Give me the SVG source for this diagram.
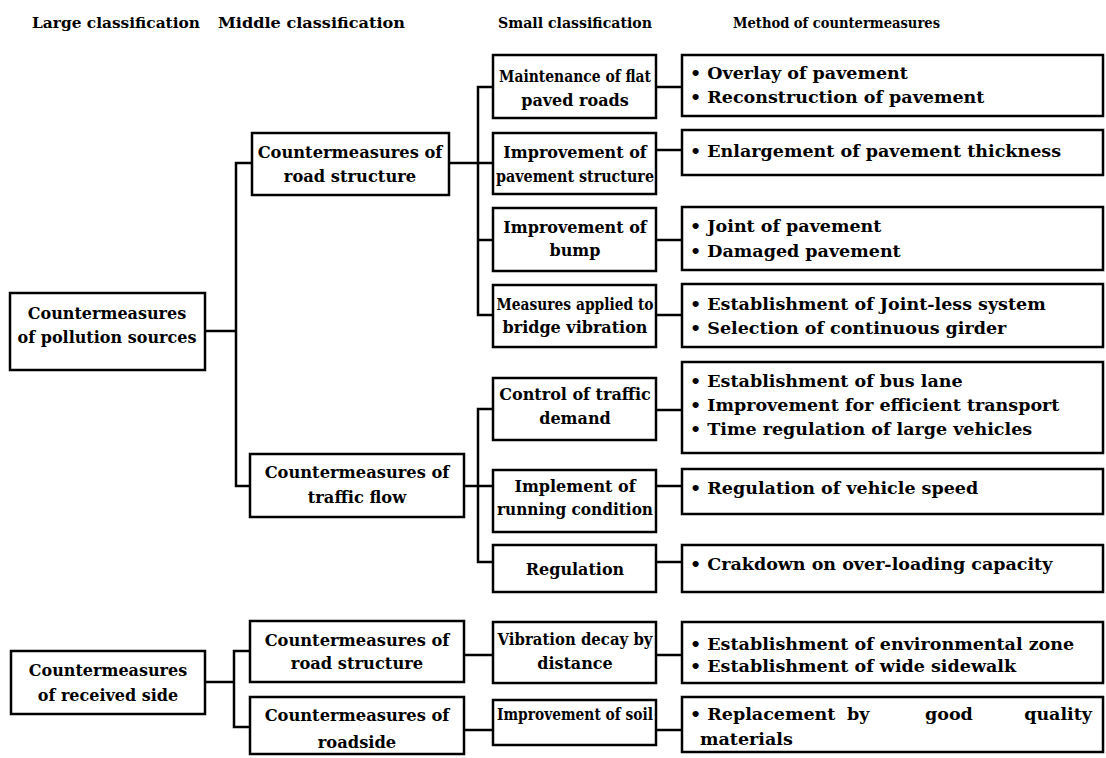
<svg xmlns="http://www.w3.org/2000/svg" width="1106" height="758" viewBox="0 0 1106 758">
  <style>
    .box { fill: #fff; stroke: #000; stroke-width: 2.5; }
    .ln { fill: none; stroke: #000; stroke-width: 2.5; stroke-linecap: square; }
    text { font-family: "DejaVu Serif", "Liberation Serif", serif; font-weight: bold; font-size: 15px; fill: #000; }
    .hd { font-size: 15px; }
    .lg { font-size: 16px; }
    .md { font-size: 16.3px; }
    .sm { font-size: 16px; }
    .mt { font-size: 17.5px; }
    .c { text-anchor: middle; }
  </style>
  <rect width="1106" height="758" fill="#fff"/>

  <!-- column headings -->
  <g id="headings">
    <text class="hd" x="32" y="28" textLength="168" lengthAdjust="spacingAndGlyphs">Large classification</text>
    <text class="hd" x="218" y="28" textLength="187" lengthAdjust="spacingAndGlyphs">Middle classification</text>
    <text class="hd" x="498" y="28" textLength="154" lengthAdjust="spacingAndGlyphs">Small classification</text>
    <text class="hd" x="733" y="28" textLength="207" lengthAdjust="spacingAndGlyphs">Method of countermeasures</text>
  </g>

  <!-- connectors -->
  <g id="connectors">
    <path class="ln" d="M205 331 H236 M236 163 V486 M236 163 H252 M236 486 H250"/>
    <path class="ln" d="M449 163 H478 M478 87 V315 M478 87 H493 M478 163 H493 M478 240 H493 M478 315 H493"/>
    <path class="ln" d="M464 486 H478 M478 409 V562 M478 409 H493 M478 486 H493 M478 562 H493"/>
    <path class="ln" d="M205 682 H234 M234 651 V727 M234 651 H250 M234 727 H250"/>
    <path class="ln" d="M464 655 H493 M464 730 H493"/>
    <path class="ln" d="M656 87 H682 M656 150 H682 M656 240 H682 M656 315 H682 M656 410 H682 M656 486 H682 M656 562 H682 M656 655 H682 M656 730 H682"/>
  </g>

  <!-- large classification -->
  <g id="large-pollution">
    <rect class="box" x="10" y="293" width="195" height="77"/>
    <text class="lg c" x="107" y="319">Countermeasures</text>
    <text class="lg c" x="107" y="343">of pollution sources</text>
  </g>
  <g id="large-received">
    <rect class="box" x="11" y="651" width="194" height="63"/>
    <text class="lg c" x="108" y="676">Countermeasures</text>
    <text class="lg c" x="108" y="701">of received side</text>
  </g>

  <!-- middle classification -->
  <g id="mid-road-structure">
    <rect class="box" x="252" y="133" width="197" height="62"/>
    <text class="md c" x="350" y="158">Countermeasures of</text>
    <text class="md c" x="350" y="182">road structure</text>
  </g>
  <g id="mid-traffic-flow">
    <rect class="box" x="250" y="454" width="214" height="63"/>
    <text class="md c" x="357" y="478">Countermeasures of</text>
    <text class="md c" x="357" y="503">traffic flow</text>
  </g>
  <g id="mid-road-structure-2">
    <rect class="box" x="250" y="621" width="214" height="61"/>
    <text class="md c" x="357" y="646">Countermeasures of</text>
    <text class="md c" x="357" y="669">road structure</text>
  </g>
  <g id="mid-roadside">
    <rect class="box" x="250" y="697" width="214" height="57"/>
    <text class="md c" x="357" y="721">Countermeasures of</text>
    <text class="md c" x="357" y="748">roadside</text>
  </g>

  <!-- small classification -->
  <g id="small-flat-paved">
    <rect class="box" x="493" y="55" width="163" height="63"/>
    <text class="sm c" x="575" y="82" textLength="152" lengthAdjust="spacingAndGlyphs">Maintenance of flat</text>
    <text class="sm c" x="575" y="106">paved roads</text>
  </g>
  <g id="small-pavement-structure">
    <rect class="box" x="493" y="133" width="163" height="61"/>
    <text class="sm c" x="575" y="158">Improvement of</text>
    <text class="sm c" x="575" y="182" textLength="158" lengthAdjust="spacingAndGlyphs">pavement structure</text>
  </g>
  <g id="small-bump">
    <rect class="box" x="493" y="208" width="163" height="63"/>
    <text class="sm c" x="575" y="233">Improvement of</text>
    <text class="sm c" x="575" y="256">bump</text>
  </g>
  <g id="small-bridge">
    <rect class="box" x="493" y="285" width="163" height="62"/>
    <text class="sm c" x="575" y="310" textLength="157" lengthAdjust="spacingAndGlyphs">Measures applied to</text>
    <text class="sm c" x="575" y="333">bridge vibration</text>
  </g>
  <g id="small-traffic-demand">
    <rect class="box" x="493" y="378" width="163" height="62"/>
    <text class="sm c" x="575" y="400">Control of traffic</text>
    <text class="sm c" x="575" y="424">demand</text>
  </g>
  <g id="small-running-condition">
    <rect class="box" x="493" y="470" width="163" height="62"/>
    <text class="sm c" x="575" y="492">Implement of</text>
    <text class="sm c" x="575" y="515" textLength="156" lengthAdjust="spacingAndGlyphs">running condition</text>
  </g>
  <g id="small-regulation">
    <rect class="box" x="493" y="545" width="163" height="47"/>
    <text class="sm c" x="575" y="575">Regulation</text>
  </g>
  <g id="small-decay">
    <rect class="box" x="493" y="622" width="163" height="61"/>
    <text class="sm c" x="575" y="645" textLength="155" lengthAdjust="spacingAndGlyphs">Vibration decay by</text>
    <text class="sm c" x="575" y="669">distance</text>
  </g>
  <g id="small-soil">
    <rect class="box" x="493" y="700" width="163" height="45"/>
    <text class="sm c" x="575" y="720" textLength="156" lengthAdjust="spacingAndGlyphs">Improvement of soil</text>
  </g>

  <!-- methods of countermeasures -->
  <g id="method-1">
    <rect class="box" x="682" y="55" width="421" height="61"/>
    <text class="mt" x="690" y="79">• Overlay of pavement</text>
    <text class="mt" x="690" y="103">• Reconstruction of pavement</text>
  </g>
  <g id="method-2">
    <rect class="box" x="682" y="130" width="421" height="45"/>
    <text class="mt" x="690" y="157">•  Enlargement of pavement thickness</text>
  </g>
  <g id="method-3">
    <rect class="box" x="682" y="207" width="421" height="63"/>
    <text class="mt" x="690" y="232">•  Joint of pavement</text>
    <text class="mt" x="690" y="257">•  Damaged pavement</text>
  </g>
  <g id="method-4">
    <rect class="box" x="682" y="284" width="421" height="63"/>
    <text class="mt" x="690" y="310">• Establishment of Joint-less system</text>
    <text class="mt" x="690" y="334">• Selection of continuous girder</text>
  </g>
  <g id="method-5">
    <rect class="box" x="682" y="362" width="421" height="91"/>
    <text class="mt" x="690" y="387">• Establishment of bus lane</text>
    <text class="mt" x="690" y="411">• Improvement for efficient transport</text>
    <text class="mt" x="690" y="435">• Time regulation of large vehicles</text>
  </g>
  <g id="method-6">
    <rect class="box" x="682" y="469" width="421" height="45"/>
    <text class="mt" x="690" y="494">• Regulation of vehicle speed</text>
  </g>
  <g id="method-7">
    <rect class="box" x="682" y="545" width="421" height="47"/>
    <text class="mt" x="690" y="570">• Crakdown on over-loading capacity</text>
  </g>
  <g id="method-8">
    <rect class="box" x="682" y="622" width="421" height="61"/>
    <text class="mt" x="690" y="650">• Establishment of environmental zone</text>
    <text class="mt" x="690" y="672">• Establishment of wide sidewalk</text>
  </g>
  <g id="method-9">
    <rect class="box" x="682" y="697" width="421" height="55"/>
    <text class="mt" x="690" y="720">• Replacement</text>
    <text class="mt" x="847" y="720">by</text>
    <text class="mt" x="925" y="720">good</text>
    <text class="mt" x="1092" y="720" text-anchor="end">quality</text>
    <text class="mt" x="700" y="745">materials</text>
  </g>
</svg>
